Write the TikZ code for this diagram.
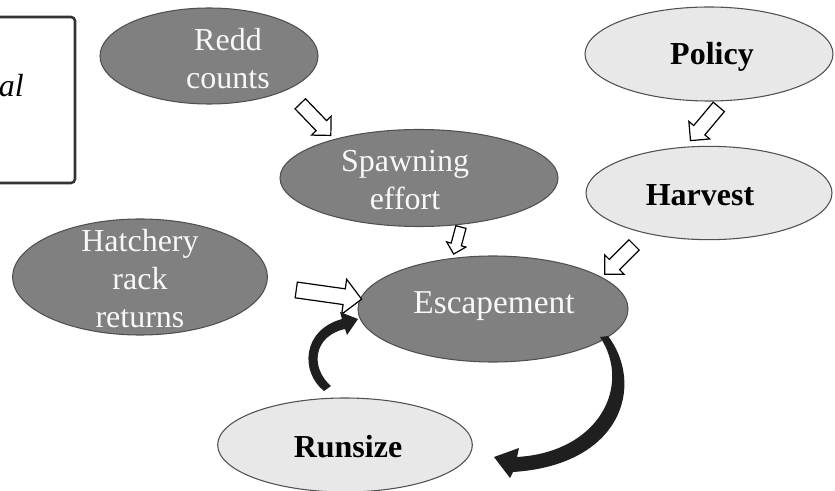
\documentclass[tikz,border=0pt]{standalone}
\usepackage{fontspec}
\setmainfont{Liberation Serif}
\usetikzlibrary{shapes.geometric,shapes.arrows}
\definecolor{darkfill}{RGB}{128,128,128}
\definecolor{lightfill}{RGB}{232,232,232}
\definecolor{edgecol}{RGB}{80,80,80}
\definecolor{txtwhite}{RGB}{248,248,248}
\begin{document}
\begin{tikzpicture}[x=0.75pt,y=-0.75pt,
  darkell/.style={ellipse,draw=edgecol,line width=0.8pt,fill=darkfill,inner sep=0pt},
  lightell/.style={ellipse,draw=edgecol,line width=0.8pt,fill=lightfill,inner sep=0pt},
  whitetxt/.style={text=txtwhite,align=center,inner sep=0pt,font=\fontsize{24}{28.5}\selectfont},
  blacktxt/.style={text=black,align=center,inner sep=0pt,font=\fontsize{24}{28.5}\selectfont\bfseries},
  blockarrow/.style={single arrow,draw=black,fill=white,line width=0.9pt,inner xsep=0pt,single arrow tip angle=90},
  curvefill/.style={fill=black!88,draw=none}]
\useasboundingbox (0,0) rectangle (835,491);

% partial frame at top left
\draw[line width=1.9pt,draw=black!80,rounded corners=3pt] (-20,17) rectangle (75,183);
\node[anchor=base east,inner sep=0pt,font=\fontsize{24}{28}\selectfont\itshape] (frametxt) at (24,97) {al};

% ellipses
\node[darkell,minimum width=163.5pt,minimum height=72pt] (redd) at (209,56) {};
\node[lightell,minimum width=186pt,minimum height=70.5pt] (policy) at (709,54) {};
\node[darkell,minimum width=208.5pt,minimum height=72.75pt] (spawn) at (419,178) {};
\node[lightell,minimum width=184.5pt,minimum height=70pt] (harvest) at (709,193) {};
\node[darkell,minimum width=191pt,minimum height=87pt] (hatch) at (140,277) {};
\node[darkell,minimum width=202.5pt,minimum height=79.5pt] (esc) at (493,309) {};
\node[lightell,minimum width=191pt,minimum height=70.5pt] (run) at (345,445) {};

% texts
\node[whitetxt] (reddtxt) at (228,59) {Redd\\counts};
\node[blacktxt] (policytxt) at (712,57) {Policy};
\node[whitetxt] (spawntxt) at (405,180) {Spawning\\effort};
\node[blacktxt] (harvesttxt) at (700,195) {Harvest};
\node[whitetxt] (hatchtxt) at (140,279) {Hatchery\\rack\\returns};
\node[whitetxt,font=\fontsize{25}{28.5}\selectfont] (esctxt) at (494,306) {Escapement};
\node[blacktxt] (runtxt) at (348,447) {Runsize};

% block arrows
\node[blockarrow,minimum height=33pt,inner ysep=5pt,single arrow head extend=4.75pt,rotate=-46] (a1) at (313,117) {};
\node[blockarrow,minimum height=33pt,inner ysep=5pt,single arrow head extend=4.75pt,rotate=230] (a2) at (707,121) {};
\node[blockarrow,minimum height=21pt,inner ysep=3.5pt,single arrow head extend=3.5pt,rotate=-105] (a3) at (458,238) {};
\node[blockarrow,minimum height=31pt,inner ysep=5pt,single arrow head extend=4.75pt,rotate=225] (a4) at (622,257) {};
\node[blockarrow,minimum height=49.5pt,inner ysep=5.5pt,single arrow head extend=7.25pt,rotate=-8] (a5) at (325,294) {};

% curved arrows: runsize -> escapement, escapement -> runsize
\fill[curvefill] (324,391) .. controls (300,372) and (302,330) .. (342,319)
  -- (340,312) -- (358,319) -- (347,335) -- (345,329)
  .. controls (313,336) and (310,368) .. (331,386) -- cycle;
\fill[curvefill] (608,336) .. controls (645,385) and (622,465) .. (513,472)
  -- (510,478) -- (494,457) -- (519,448) -- (517,457)
  .. controls (600,452) and (632,385) .. (600,337) -- cycle;
\end{tikzpicture}
\end{document}
